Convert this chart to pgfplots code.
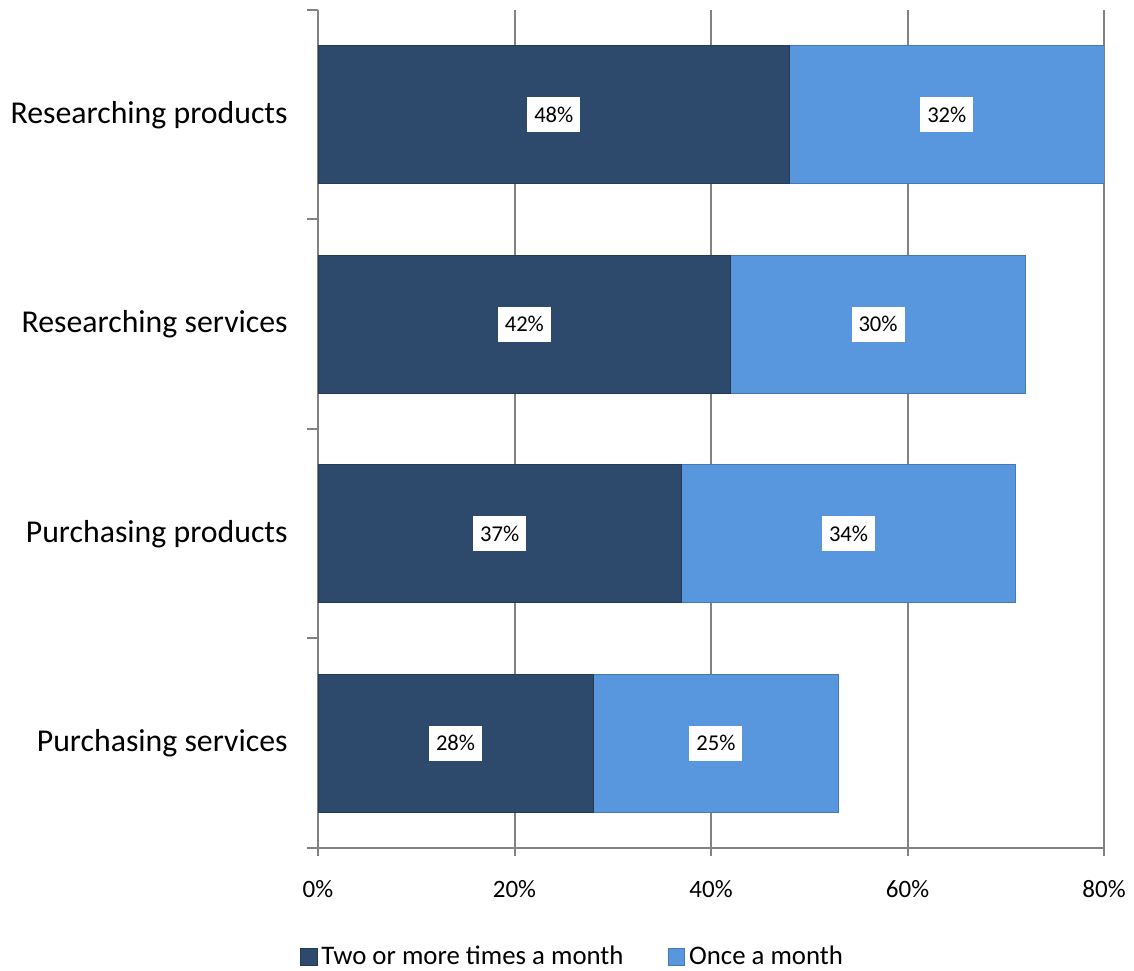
\documentclass[border=0pt]{standalone}
\usepackage{pgfplots}
\pgfplotsset{compat=1.18}
\usepackage{pgfplotstable}
\usepackage{fontspec}
\setmainfont{Carlito}
\definecolor{darkbar}{RGB}{45,73,108}
\definecolor{lightbar}{RGB}{88,150,222}
\definecolor{gridgray}{RGB}{130,130,130}
\pgfplotstableread{
y a b
0 28 25
1 37 34
2 42 30
3 48 32
}\datatable
\begin{document}
\begin{tikzpicture}
\begin{axis}[
  name=ax,
  scale only axis,
  width=393pt, height=419pt,
  xbar stacked,
  bar width=69pt,
  xmin=0, xmax=80,
  ymin=-0.5, ymax=3.5,
  axis x line=bottom, axis y line=left,
  axis line style={draw=gridgray, line width=1pt, -},
  xtick={0,20,40,60,80},
  xticklabel={\pgfmathprintnumber{\tick}\%},
  /pgf/number format/assume math mode=true,
  ytick={0,1,2,3},
  yticklabels={Purchasing services, Purchasing products, Researching services, Researching products},
  minor ytick={-0.5,0.5,1.5,2.5,3.5},
  tick align=outside,
  major tick length=4pt,
  minor tick length=5.5pt,
  ytick style={draw=none},
  minor y tick style={draw=gridgray, line width=1pt},
  xtick style={draw=gridgray, line width=1pt},
  xmajorgrids,
  major grid style={draw=gridgray, line width=1pt},
  yticklabel style={font=\fontsize{15.9}{18}\selectfont, inner sep=0pt, xshift=-11pt},
  xticklabel style={font=\fontsize{12.5}{14}\selectfont, yshift=-8.5pt},
  point meta=explicit,
  nodes near coords={\pgfmathprintnumber{\pgfplotspointmeta}\%},
  every node near coord/.append style={font=\fontsize{11.3}{13}\selectfont, fill=white, text=black, anchor=center, inner xsep=3.5pt, minimum height=17.5pt},
  legend style={at={(0.325,-0.13)}, anchor=center, draw=none, font=\fontsize{13.4}{15}\selectfont, legend columns=2, /tikz/every even column/.append style={column sep=20pt}},
  legend image code/.code={\fill[#1] (0pt,-4.2pt) rectangle (8.4pt,4.2pt);},
]
\addplot[fill=darkbar, draw=darkbar!80!black] table[x=a, y=y, meta=a] {\datatable};
\addlegendentry{Two or more times a month}
\addplot[fill=lightbar, draw=lightbar!80!black] table[x=b, y=y, meta=b] {\datatable};
\addlegendentry{Once a month}
\end{axis}
\pgfresetboundingbox
\path[use as bounding box] ([xshift=-159pt,yshift=-61pt]ax.south west) rectangle ([xshift=15pt,yshift=5pt]ax.north east);
\end{tikzpicture}
\end{document}
